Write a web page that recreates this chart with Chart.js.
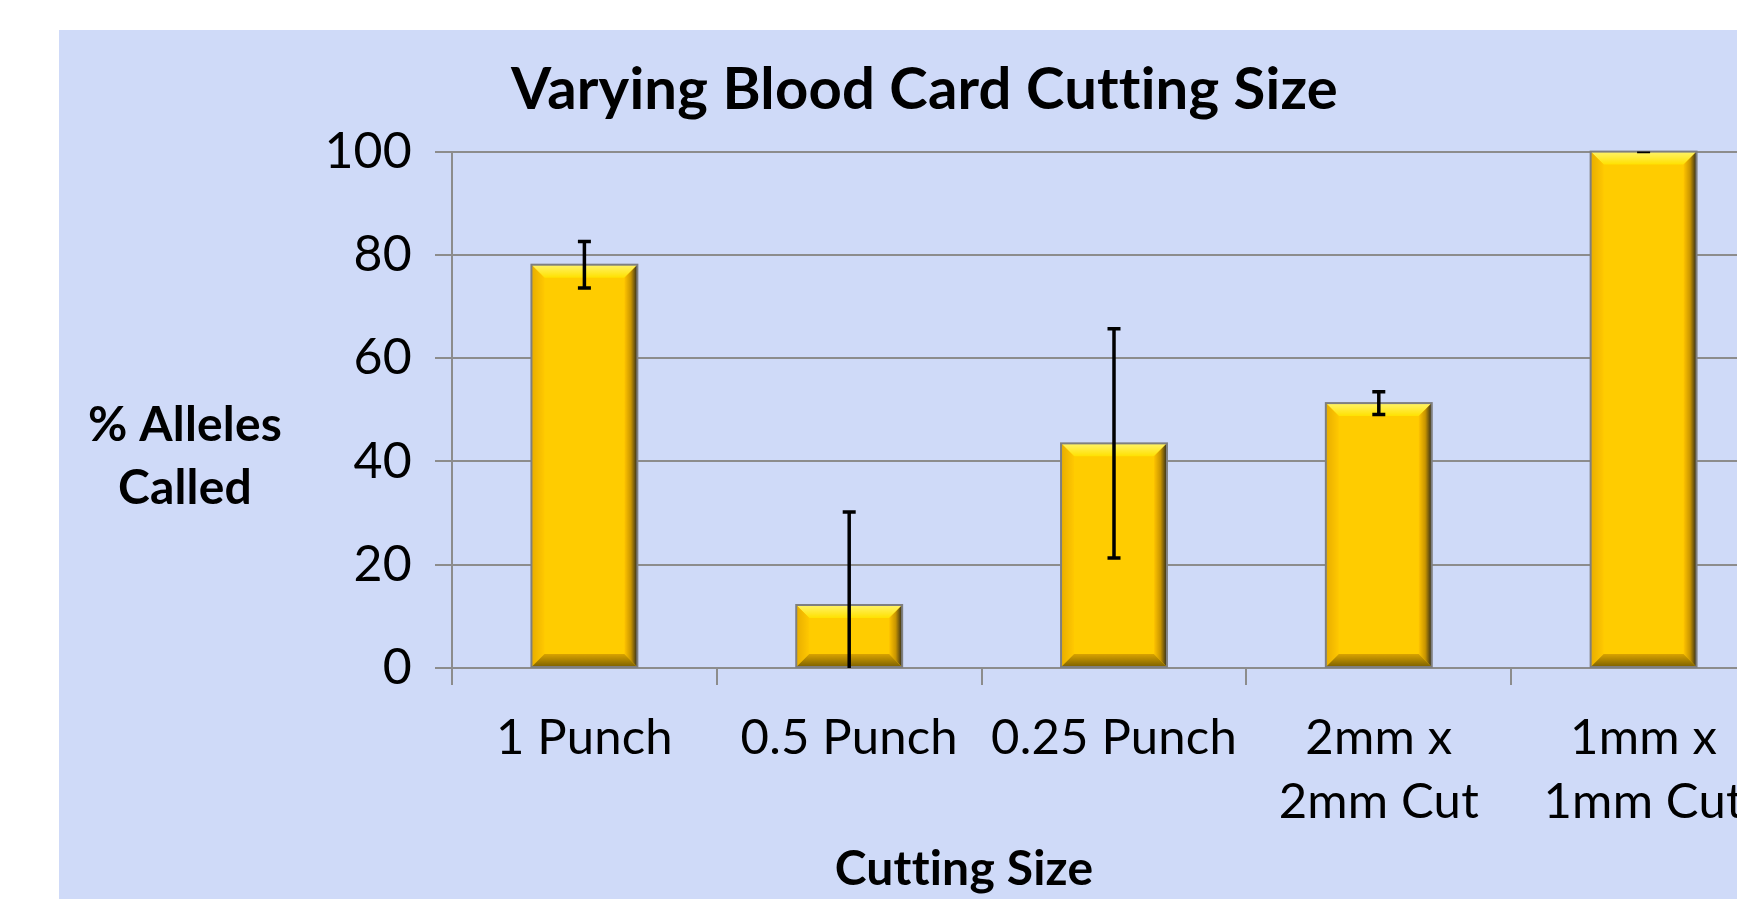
<!DOCTYPE html>
<html>
<head>
<meta charset="utf-8">
<title>Varying Blood Card Cutting Size</title>
<script src="https://cdn.jsdelivr.net/npm/chart.js@4.4.1/dist/chart.umd.min.js"></script>
<style>
  html, body { margin: 0; padding: 0; background: #ffffff; overflow: hidden; }
  #panel {
    position: absolute;
    left: 59px;
    top: 30px;
    width: 1730px;
    height: 869px;
    background: #cfdaf8;
  }
  canvas { display: block; font-variant-ligatures: none; }
</style>
</head>
<body>
<div id="panel">
  <canvas id="cutting-chart" width="1730" height="869"></canvas>
</div>
<script>
// Chart data
var categories = ["1 Punch", "0.5 Punch", "0.25 Punch", ["2mm x", "2mm Cut"], ["1mm x", "1mm Cut"]];
var allelesCalled = [78.1, 12.2, 43.5, 51.3, 100];
var errorAmounts = [4.5, 18, 22.2, 2.2, 0];
var yTicks = [0, 20, 40, 60, 80, 100];

var chartTitle = "Varying Blood Card Cutting Size";
var yTitleLines = ["% Alleles", "Called"];
var xTitle = "Cutting Size";

var FONT = "Lato, 'Open Sans', sans-serif";
var GRID = "#8c8c8c";

// a touch of letter spacing keeps Lato from joining "tt" into a ligature
var noLigaturePlugin = {
  id: "noLigature",
  beforeDraw: function (chart) {
    if ("letterSpacing" in chart.ctx) {
      chart.ctx.letterSpacing = "0.2px";
    }
  }
};

// Bevel overlay so the bars look like the Excel 3D bevel
var bevelPlugin = {
  id: "bevel",
  afterDatasetsDraw: function (chart) {
    var ctx = chart.ctx;
    var meta = chart.getDatasetMeta(0);
    meta.data.forEach(function (bar) {
      var p = bar.getProps(["x", "y", "base", "width"], true);
      var L = p.x - p.width / 2, R = p.x + p.width / 2;
      var T = Math.min(p.y, p.base), B = Math.max(p.y, p.base);
      var b = Math.min(13, (B - T) / 2);
      var g;
      ctx.save();

      // top
      g = ctx.createLinearGradient(0, T, 0, T + b);
      g.addColorStop(0, "#fff36a");
      g.addColorStop(1, "#ffe100");
      ctx.fillStyle = g;
      ctx.beginPath();
      ctx.moveTo(L, T); ctx.lineTo(R, T); ctx.lineTo(R - b, T + b); ctx.lineTo(L + b, T + b);
      ctx.closePath(); ctx.fill();

      // left
      g = ctx.createLinearGradient(L, 0, L + b, 0);
      g.addColorStop(0, "#e8ad00");
      g.addColorStop(1, "#ffc800");
      ctx.fillStyle = g;
      ctx.beginPath();
      ctx.moveTo(L, T); ctx.lineTo(L + b, T + b); ctx.lineTo(L + b, B - b); ctx.lineTo(L, B);
      ctx.closePath(); ctx.fill();

      // right
      g = ctx.createLinearGradient(R - b, 0, R, 0);
      g.addColorStop(0, "#ffc400");
      g.addColorStop(0.5, "#c99500");
      g.addColorStop(1, "#2e2a1a");
      ctx.fillStyle = g;
      ctx.beginPath();
      ctx.moveTo(R, T); ctx.lineTo(R - b, T + b); ctx.lineTo(R - b, B - b); ctx.lineTo(R, B);
      ctx.closePath(); ctx.fill();

      // bottom
      g = ctx.createLinearGradient(0, B - b, 0, B);
      g.addColorStop(0, "#d9a300");
      g.addColorStop(1, "#7c6000");
      ctx.fillStyle = g;
      ctx.beginPath();
      ctx.moveTo(L, B); ctx.lineTo(L + b, B - b); ctx.lineTo(R - b, B - b); ctx.lineTo(R, B);
      ctx.closePath(); ctx.fill();

      // outline
      ctx.strokeStyle = "#7f7f7f";
      ctx.lineWidth = 2;
      ctx.strokeRect(L, T, R - L, B - T);
      ctx.restore();
    });
  }
};

// Error bars, clipped to the plot area like Excel does
var errorBarPlugin = {
  id: "errorBars",
  afterDatasetsDraw: function (chart) {
    var ctx = chart.ctx;
    var yScale = chart.scales.y;
    var area = chart.chartArea;
    var meta = chart.getDatasetMeta(0);
    ctx.save();
    ctx.beginPath();
    ctx.rect(area.left, area.top, area.right - area.left, area.bottom - area.top);
    ctx.clip();
    ctx.strokeStyle = "#000000";
    ctx.lineWidth = 3.5;
    meta.data.forEach(function (bar, i) {
      var x = bar.x;
      var hi = yScale.getPixelForValue(allelesCalled[i] + errorAmounts[i]);
      var lo = yScale.getPixelForValue(allelesCalled[i] - errorAmounts[i]);
      ctx.beginPath();
      ctx.moveTo(x, hi); ctx.lineTo(x, lo);
      ctx.moveTo(x - 6.5, hi); ctx.lineTo(x + 6.5, hi);
      ctx.moveTo(x - 6.5, lo); ctx.lineTo(x + 6.5, lo);
      ctx.stroke();
    });
    ctx.restore();
  }
};

// Horizontal axis titles placed where the Excel chart has them
var axisTitlePlugin = {
  id: "axisTitles",
  afterDraw: function (chart) {
    var ctx = chart.ctx;
    ctx.save();
    ctx.fillStyle = "#000000";
    ctx.textAlign = "center";
    ctx.textBaseline = "middle";
    ctx.font = "bold 48px " + FONT;
    yTitleLines.forEach(function (line, i) {
      ctx.fillText(line, 126, 396 + i * 63);
    });
    ctx.fillText(xTitle, 905, 840);
    ctx.restore();
  }
};

var ctx = document.getElementById("cutting-chart").getContext("2d");
new Chart(ctx, {
  type: "bar",
  data: {
    labels: categories,
    datasets: [
      {
        label: "% Alleles Called",
        data: allelesCalled,
        backgroundColor: "#ffcc00",
        borderColor: "#7f7f7f",
        borderWidth: 0,
        categoryPercentage: 1.0,
        barPercentage: 0.4
      }
    ]
  },
  options: {
    responsive: false,
    animation: false,
    devicePixelRatio: 1,
    layout: { padding: { left: 14, right: 13, top: 0, bottom: 0 } },
    plugins: {
      legend: { display: false },
      tooltip: { enabled: false },
      title: {
        display: true,
        text: chartTitle,
        color: "#000000",
        font: { family: FONT, size: 58, weight: "bold", lineHeight: 1.2 },
        padding: { top: 25, bottom: 27 }
      }
    },
    scales: {
      x: {
        afterFit: function (scale) { scale.height = 231; },
        grid: {
          drawOnChartArea: false,
          drawTicks: true,
          tickLength: 17,
          color: GRID,
          lineWidth: 2
        },
        border: { display: true, color: GRID, width: 2 },
        ticks: {
          color: "#000000",
          font: { family: FONT, size: 49, lineHeight: 1.29 },
          padding: 22,
          maxRotation: 0,
          autoSkip: false
        }
      },
      y: {
        min: 0,
        max: 100,
        afterFit: function (scale) { scale.width = 379; },
        afterBuildTicks: function (scale) {
          scale.ticks = yTicks.map(function (v) { return { value: v }; });
        },
        grid: {
          drawTicks: true,
          tickLength: 17,
          color: GRID,
          lineWidth: 2
        },
        border: { display: true, color: GRID, width: 2 },
        ticks: {
          color: "#000000",
          font: { family: FONT, size: 50 },
          padding: 23
        }
      }
    }
  },
  plugins: [noLigaturePlugin, bevelPlugin, errorBarPlugin, axisTitlePlugin]
});
</script>
</body>
</html>
